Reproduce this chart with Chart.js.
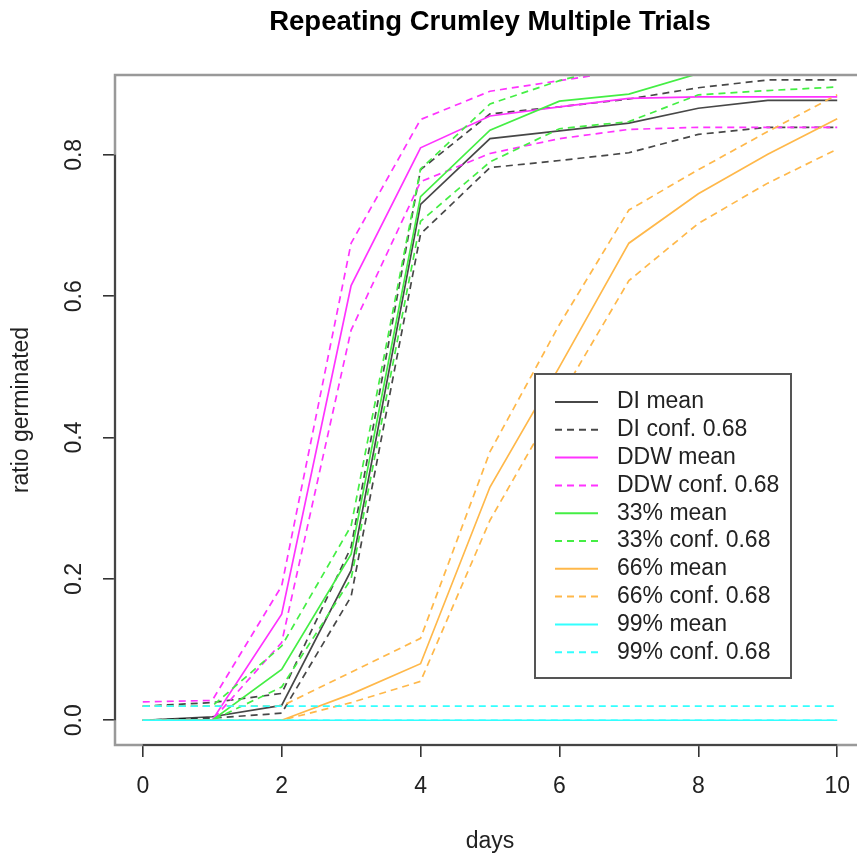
<!DOCTYPE html>
<html>
<head>
<meta charset="utf-8">
<title>Repeating Crumley Multiple Trials</title>
<script src="https://cdn.jsdelivr.net/npm/chart.js@4.4.1/dist/chart.umd.min.js"></script>
<style>
  html, body { margin: 0; padding: 0; background: #fff; }
  #wrap { width: 857px; height: 856px; overflow: hidden; }
</style>
</head>
<body>
<div id="wrap"><canvas id="chart" width="866" height="856" style="width:866px;height:856px"></canvas></div>
<script>
const days = [0, 1, 2, 3, 4, 5, 6, 7, 8, 9, 10];
const xTicks = [0, 2, 4, 6, 8, 10];
const yTicks = [0, 0.2, 0.4, 0.6, 0.8];

const groups = ["DI", "DDW", "33%", "66%", "99%"];
const colors = ["rgba(0,0,0,0.72)", "#ff33ff", "#44ee44", "#ffb84a", "#33ffff"];

// mean ratio germinated per day, with the 0.68 confidence band
const diMean   = [0, 0.005, 0.021, 0.212, 0.73, 0.823, 0.834, 0.845, 0.866, 0.877, 0.877];
const diUpper  = [0.02, 0.025, 0.038, 0.245, 0.779, 0.858, 0.868, 0.879, 0.895, 0.906, 0.906];
const diLower  = [0, 0.003, 0.01, 0.175, 0.688, 0.782, 0.792, 0.803, 0.829, 0.839, 0.839];

const ddwMean  = [0, 0, 0.15, 0.615, 0.81, 0.855, 0.868, 0.88, 0.882, 0.882, 0.882];
const ddwUpper = [0.026, 0.028, 0.19, 0.675, 0.85, 0.89, 0.905, 0.92, 0.925, 0.925, 0.925];
const ddwLower = [0, 0, 0.11, 0.552, 0.762, 0.802, 0.823, 0.836, 0.839, 0.839, 0.839];

const p33Mean  = [0, 0, 0.072, 0.235, 0.741, 0.835, 0.876, 0.886, 0.915, 0.925, 0.925];
const p33Upper = [0.02, 0.02, 0.105, 0.275, 0.78, 0.872, 0.905, 0.93, 0.94, 0.95, 0.95];
const p33Lower = [0, 0, 0.047, 0.2, 0.706, 0.79, 0.837, 0.847, 0.885, 0.891, 0.896];

const p66Mean  = [0, 0, 0, 0.037, 0.08, 0.33, 0.5, 0.675, 0.745, 0.801, 0.851];
const p66Upper = [0.02, 0.02, 0.02, 0.068, 0.116, 0.38, 0.56, 0.722, 0.779, 0.833, 0.885];
const p66Lower = [0, 0, 0, 0.025, 0.055, 0.283, 0.455, 0.622, 0.703, 0.76, 0.808];

const p99Mean  = [0, 0, 0, 0, 0, 0, 0, 0, 0, 0, 0];
const p99Upper = [0.02, 0.02, 0.02, 0.02, 0.02, 0.02, 0.02, 0.02, 0.02, 0.02, 0.02];
const p99Lower = [0, 0, 0, 0, 0, 0, 0, 0, 0, 0, 0];

const series = [
  [diMean, diUpper, diLower],
  [ddwMean, ddwUpper, ddwLower],
  [p33Mean, p33Upper, p33Lower],
  [p66Mean, p66Upper, p66Lower],
  [p99Mean, p99Upper, p99Lower],
];

const FONT = "'Liberation Sans', Arial, Helvetica, sans-serif";
const DASH = [7, 5];

const datasets = [];
series.forEach((s, g) => {
  s.forEach((vals, k) => {
    datasets.push({
      label: groups[g] + (k === 0 ? " mean" : " conf. 0.68"),
      data: vals.map((v, i) => ({ x: days[i], y: v })),
      borderColor: colors[g],
      borderWidth: 1.7,
      borderDash: k === 0 ? [] : DASH,
      pointRadius: 0,
      tension: 0,
    });
  });
});
// later groups sit on top, like sequential lines() calls
datasets.forEach((d, i) => { d.order = -i; });

// frame, title and legend drawn around the plot region
const frame = {
  id: "frame",
  afterDraw(chart) {
    const { ctx, chartArea: a, scales } = chart;
    ctx.save();
    ctx.strokeStyle = "#999";
    ctx.lineWidth = 2.5;
    ctx.beginPath();
    ctx.moveTo(a.right + 5, a.top);
    ctx.lineTo(a.left, a.top);
    ctx.lineTo(a.left, a.bottom);
    ctx.lineTo(a.right + 5, a.bottom);
    ctx.stroke();

    // axis lines only span first to last tick
    ctx.strokeStyle = "#444";
    ctx.lineWidth = 2;
    ctx.beginPath();
    ctx.moveTo(a.left, scales.y.getPixelForValue(yTicks[0]));
    ctx.lineTo(a.left, scales.y.getPixelForValue(yTicks[yTicks.length - 1]));
    ctx.moveTo(scales.x.getPixelForValue(xTicks[0]), a.bottom);
    ctx.lineTo(scales.x.getPixelForValue(xTicks[xTicks.length - 1]), a.bottom);
    ctx.stroke();

    ctx.fillStyle = "#000";
    ctx.font = "bold 27.5px " + FONT;
    ctx.textAlign = "center";
    ctx.textBaseline = "middle";
    ctx.fillText("Repeating Crumley Multiple Trials", (a.left + a.right) / 2, 22);

    // legend
    const lx = 535, ly = 374, lw = 256, lh = 304;
    ctx.fillStyle = "#fff";
    ctx.fillRect(lx, ly, lw, lh);
    ctx.strokeStyle = "#555";
    ctx.lineWidth = 2;
    ctx.strokeRect(lx, ly, lw, lh);
    ctx.font = "23px " + FONT;
    ctx.textAlign = "left";
    ctx.fillStyle = "#222";
    let row = 0;
    groups.forEach((name, g) => {
      ["mean", "conf. 0.68"].forEach((kind, k) => {
        const y = ly + 28 + row * 27.8;
        ctx.strokeStyle = colors[g];
        ctx.lineWidth = 2;
        ctx.setLineDash(k === 0 ? [] : DASH);
        ctx.beginPath();
        ctx.moveTo(555, y);
        ctx.lineTo(598, y);
        ctx.stroke();
        ctx.setLineDash([]);
        ctx.fillText(name + " " + kind, 617, y);
        row++;
      });
    });
    ctx.restore();
  },
};

new Chart(document.getElementById("chart"), {
  type: "line",
  data: { datasets },
  options: {
    responsive: false,
    animation: false,
    layout: { padding: { top: 75, left: 0, right: 0, bottom: 0 } },
    plugins: { legend: { display: false }, tooltip: { enabled: false } },
    scales: {
      x: {
        type: "linear",
        min: -0.4,
        max: 10.4,
        afterBuildTicks: (s) => { s.ticks = xTicks.map((v) => ({ value: v })); },
        afterFit: (s) => { s.height = 111; },
        grid: { drawOnChartArea: false, drawTicks: true, tickLength: 12, color: "#333", lineWidth: 1.6 },
        border: { display: false },
        ticks: { color: "#222", padding: 16, font: { family: FONT, size: 23 }, maxRotation: 0 },
        title: { display: true, text: "days", color: "#222", font: { family: FONT, size: 23 }, padding: { top: 0, bottom: 1 } },
      },
      y: {
        type: "linear",
        min: -0.035,
        max: 0.913,
        afterBuildTicks: (s) => { s.ticks = yTicks.map((v) => ({ value: v })); },
        afterFit: (s) => { s.width = 115; },
        grid: { drawOnChartArea: false, drawTicks: true, tickLength: 12, color: "#333", lineWidth: 1.6 },
        border: { display: false },
        ticks: {
          color: "#222",
          padding: 12,
          minRotation: 90,
          maxRotation: 90,
          crossAlign: "center",
          font: { family: FONT, size: 23 },
          callback: (v) => v.toFixed(1),
        },
        title: { display: true, text: "ratio germinated", color: "#222", font: { family: FONT, size: 23 }, padding: { top: 8, bottom: 0 } },
      },
    },
  },
  plugins: [frame],
});
</script>
</body>
</html>
